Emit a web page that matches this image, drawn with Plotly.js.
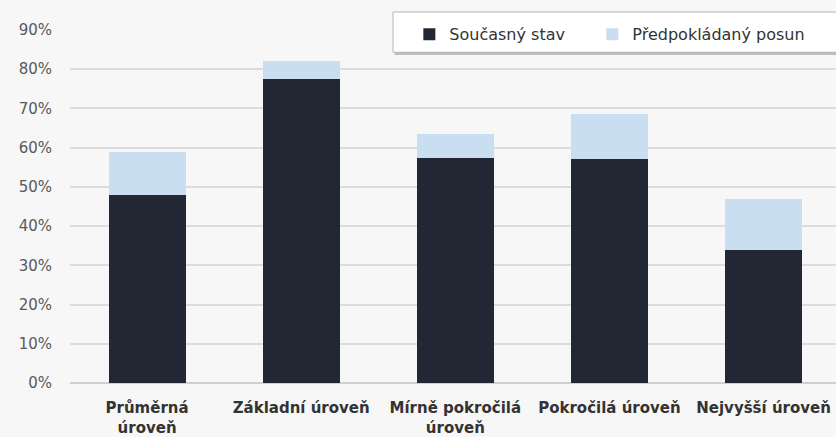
<!DOCTYPE html>
<html>
<head>
<meta charset="utf-8">
<script src="https://cdn.plot.ly/plotly-3.0.1.min.js"></script>
<style>html,body{margin:0;padding:0;background:#f7f7f7;}</style>
</head>
<body>
<div id="chart" style="width:836px;height:437px;"></div>
<script>
const categories = ["Průměrná<br>úroveň", "Základní úroveň", "Mírně pokročilá<br>úroveň", "Pokročilá úroveň", "Nejvyšší úroveň"];
const currentState = [0.48, 0.776, 0.574, 0.57, 0.34];
const expectedShift = [0.11, 0.045, 0.061, 0.116, 0.13];
const yTicks = [0, 0.1, 0.2, 0.3, 0.4, 0.5, 0.6, 0.7, 0.8, 0.9];
const yTickLabels = ["0%", "10%", "20%", "30%", "40%", "50%", "60%", "70%", "80%", "90%"];

const traces = [
  {type: "bar", name: "Současný stav", x: categories, y: currentState,
   marker: {color: "#212834"}, legendwidth: 138},
  {type: "bar", name: "Předpokládaný posun", x: categories, y: expectedShift,
   marker: {color: "#c9def0"}}
];

const layout = {
  width: 836, height: 437,
  barmode: "stack", bargap: 0.5,
  paper_bgcolor: "#f7f7f7", plot_bgcolor: "#f7f7f7",
  margin: {l: 70, r: 0, t: 30, b: 54},
  font: {family: "DejaVu Sans, Arial, sans-serif", color: "#555"},
  xaxis: {range: [-0.5, 4.47], tickfont: {size: 15, color: "#333", weight: "bold"},
          showgrid: false, zeroline: false, showline: false, ticks: "", ticklabelstandoff: 14},
  yaxis: {range: [0, 0.9], tickvals: yTicks, ticktext: yTickLabels,
          tickfont: {size: 15, color: "#595959"}, gridcolor: "#dcdcdc", gridwidth: 1.5,
          zeroline: true, zerolinecolor: "#d0d0d0", zerolinewidth: 1.5, ticks: "", ticklabelstandoff: 17},
  showlegend: true,
  legend: {orientation: "h", x: 0.443, y: 1.036, xanchor: "left", yanchor: "top",
           bgcolor: "rgba(0,0,0,0)", font: {size: 16, color: "#333"},
           traceorder: "normal", itemwidth: 30},
  shapes: [
    {type: "rect", xref: "paper", yref: "paper", x0: 0.424, x1: 1.01, y0: 0.929, y1: 1.048,
     fillcolor: "#bdbdbd", line: {width: 0}, layer: "above"},
    {type: "rect", xref: "paper", yref: "paper", x0: 0.4217, x1: 1.01, y0: 0.937, y1: 1.051,
     fillcolor: "#ffffff", line: {color: "#b5b5b5", width: 1}, layer: "above"}
  ]
};

Plotly.newPlot("chart", traces, layout, {displayModeBar: false});
</script>
</body>
</html>
